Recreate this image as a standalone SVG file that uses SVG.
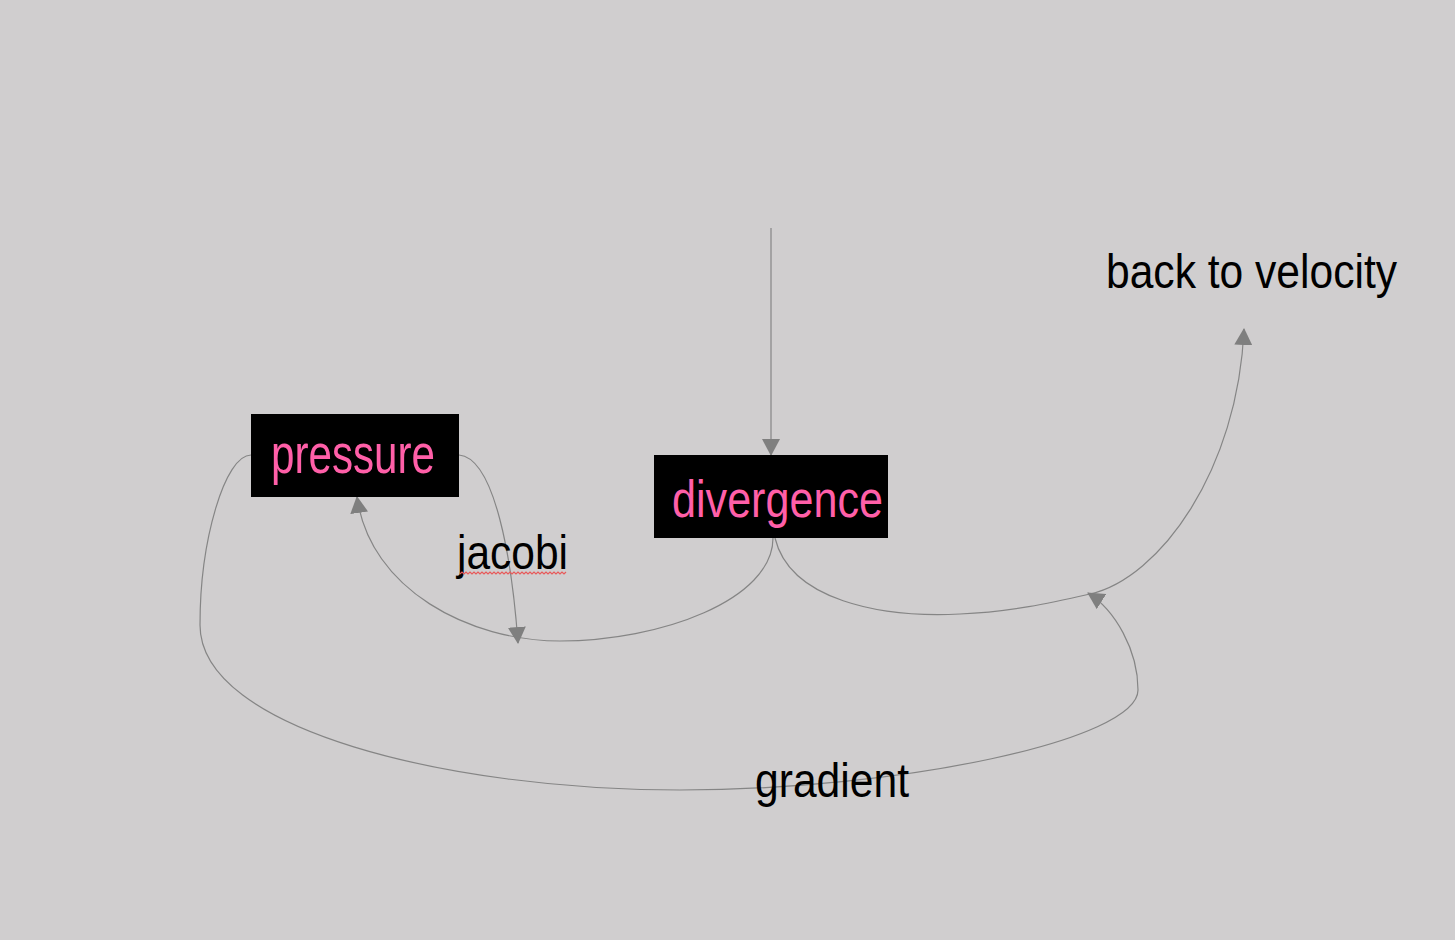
<svg xmlns="http://www.w3.org/2000/svg" width="1455" height="940" viewBox="0 0 1455 940">
  <style>
    .edge { fill: none; stroke: #858585; stroke-width: 1.2; }
    .box { fill: #000000; }
    .ntext { font-family: "Liberation Sans", Arial, sans-serif; fill: #ff5fa8; }
    .label { font-family: "Liberation Sans", Arial, sans-serif; fill: #000000; }
  </style>
  <defs>
    <marker id="arrow" markerUnits="userSpaceOnUse" markerWidth="17" markerHeight="18" refX="16" refY="9" orient="auto" viewBox="0 0 17 18">
      <path d="M0,0 L17,9 L0,18 z" fill="#7f7f7f"/>
    </marker>
  </defs>
  <rect x="0" y="0" width="1455" height="940" fill="#d0cecf"/>

  <g id="connectors">
    <path class="edge" d="M771,228 L771,455" marker-end="url(#arrow)"/>
    <path class="edge" d="M773,538 C773,600 660,641 560,641 C470,641 370,590 357,497" marker-end="url(#arrow)"/>
    <path class="edge" d="M459,455 C495,458 512,560 518,643" marker-end="url(#arrow)"/>
    <path class="edge" d="M775,538 C790,600 880,618 960,614 C1010,612 1050,603 1090,594 C1160,578 1238,470 1244,329" marker-end="url(#arrow)"/>
    <path class="edge" d="M251,455 C225,455 200,540 200,625 C200,730 450,790 680,790 C900,790 1138,740 1138,690 C1138,650 1115,610 1088,593" marker-end="url(#arrow)"/>
  </g>

  <g id="pressure">
    <rect class="box" x="251" y="414" width="208" height="83"/>
    <text class="ntext" x="271" y="473" font-size="55" textLength="164" lengthAdjust="spacingAndGlyphs">pressure</text>
  </g>

  <g id="divergence">
    <rect class="box" x="654" y="455" width="234" height="83"/>
    <text class="ntext" x="672" y="517" font-size="52" textLength="211" lengthAdjust="spacingAndGlyphs">divergence</text>
  </g>

  <g id="back-to-velocity">
    <text class="label" x="1106" y="288" font-size="49" textLength="291" lengthAdjust="spacingAndGlyphs">back to velocity</text>
  </g>

  <g id="jacobi">
    <text class="label" x="457" y="569" font-size="48" textLength="111" lengthAdjust="spacingAndGlyphs">jacobi</text>
    <path d="M460,574 l2,-2 l2,2 l2,-2 l2,2 l2,-2 l2,2 l2,-2 l2,2 l2,-2 l2,2 l2,-2 l2,2 l2,-2 l2,2 l2,-2 l2,2 l2,-2 l2,2 l2,-2 l2,2 l2,-2 l2,2 l2,-2 l2,2 l2,-2 l2,2 l2,-2 l2,2 l2,-2 l2,2 l2,-2 l2,2 l2,-2 l2,2 l2,-2 l2,2 l2,-2 l2,2 l2,-2 l2,2 l2,-2 l2,2 l2,-2 l2,2 l2,-2 l2,2 l2,-2 l2,2 l2,-2 l2,2 l2,-2 l2,2 l2,-2" fill="none" stroke="#e85a5a" stroke-width="1.2"/>
  </g>

  <g id="gradient">
    <text class="label" x="755" y="797" font-size="48" textLength="154" lengthAdjust="spacingAndGlyphs">gradient</text>
  </g>
</svg>
